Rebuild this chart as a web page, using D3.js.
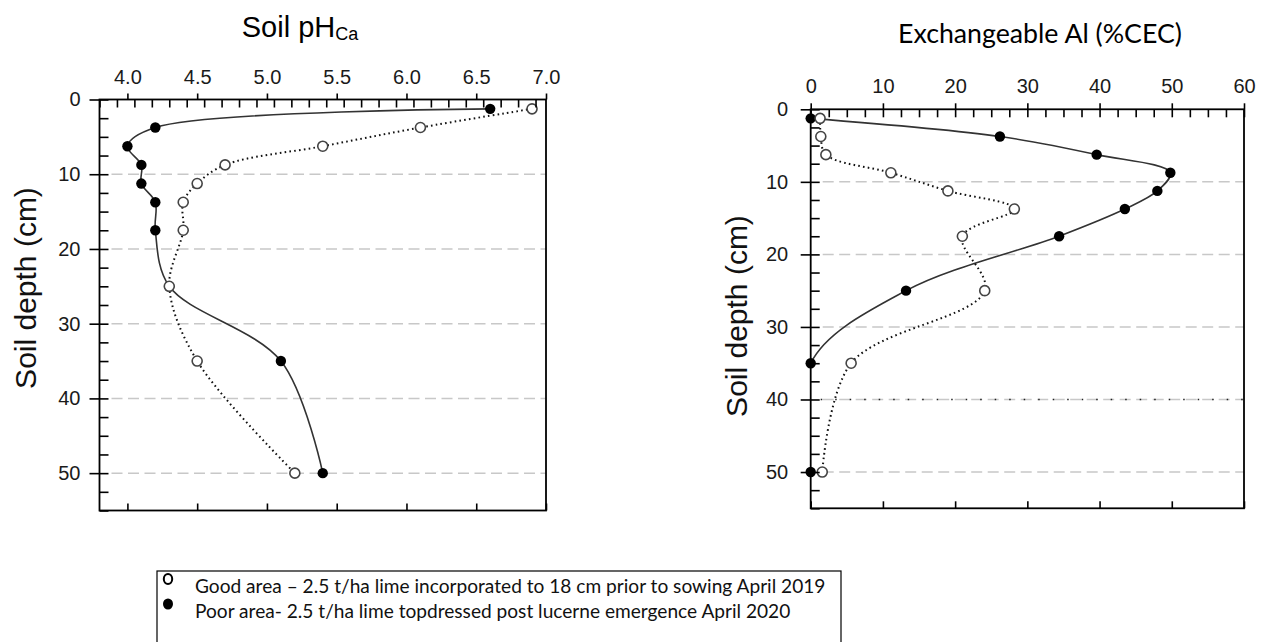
<!DOCTYPE html>
<html>
<head>
<meta charset="utf-8">
<script src="https://cdn.jsdelivr.net/npm/d3@7"></script>
<style>
  body { margin: 0; background: #fff; }
  svg { display: block; }
</style>
</head>
<body>
<svg width="1272" height="642"></svg>
<script>
"use strict";

// sampling depths (cm), shared by both panels
const depths = [1.25, 3.75, 6.25, 8.75, 11.25, 13.75, 17.5, 25, 35, 50];
// Soil pH(Ca)
const phGood = [6.9, 6.1, 5.4, 4.7, 4.5, 4.4, 4.4, 4.3, 4.5, 5.2];
const phPoor = [6.6, 4.2, 4.0, 4.1, 4.1, 4.2, 4.2, 4.3, 5.1, 5.4];
// Exchangeable Al (%CEC)
const alGood = [1.3, 1.4, 2.1, 11.1, 19, 28.2, 21, 24.1, 5.6, 1.6];
const alPoor = [0, 26.2, 39.6, 49.8, 48, 43.5, 34.4, 13.2, 0, 0];

const phTicks = [4.0, 4.5, 5.0, 5.5, 6.0, 6.5, 7.0];
const alTicks = [0, 10, 20, 30, 40, 50, 60];
const depthTicks = [0, 10, 20, 30, 40, 50];
const legendLabels = [
    "Good area \u2013 2.5 t/ha lime incorporated to 18 cm prior to sowing April 2019",
    "Poor area- 2.5 t/ha lime topdressed post lucerne emergence April 2020"
];

const svg = d3.select("svg");
const axisFont = "'Liberation Sans', Arial, sans-serif";
const calibriLike = "Lato, 'Open Sans', sans-serif";

function fitWidth(sel, target) {
    const w = sel.node().getComputedTextLength();
    const fs = parseFloat(sel.attr("font-size"));
    sel.attr("font-size", fs * target / w);
}

function drawPanel(p) {
    const x = d3.scaleLinear().domain(p.xDomain).range(p.xRange),
        y = d3.scaleLinear().domain([0, 55]).range(p.yRange);
    const g = svg.append("g");
    const x0 = p.xRange[0], x1 = p.xRange[1], y0 = p.yRange[0], y1 = p.yRange[1];

    // keep the curves inside the frame
    svg.append("clipPath").attr("id", p.id)
        .append("rect")
        .attr("x", x0).attr("y", y0 - 10)
        .attr("width", x1 - x0).attr("height", y1 - y0 + 10);

    // dashed grid
    g.append("g").selectAll("line")
        .data(depthTicks.slice(1))
        .join("line")
        .attr("x1", x0 + 12).attr("x2", x1)
        .attr("y1", d => y(d)).attr("y2", d => y(d))
        .attr("stroke", "#c8c8c8")
        .attr("stroke-width", 1.5)
        .attr("stroke-dasharray", "11,5.5");

    if (p.dottedRow !== undefined) {
        g.append("line")
            .attr("x1", x0 + 10).attr("x2", x1)
            .attr("y1", y(p.dottedRow)).attr("y2", y(p.dottedRow))
            .attr("stroke", "#222")
            .attr("stroke-width", 1.5)
            .attr("stroke-dasharray", "1.5,13");
    }

    const line = d3.line()
        .x(d => x(d[0]))
        .y(d => y(d[1]))
        .curve(d3.curveCatmullRom.alpha(0.5));
    const poor = p.poor.map((v, i) => [v, depths[i]]),
        good = p.good.map((v, i) => [v, depths[i]]);

    const lines = g.append("g").attr("clip-path", `url(#${p.id})`);
    lines.append("path")
        .attr("d", line(poor))
        .attr("fill", "none")
        .attr("stroke", "#333")
        .attr("stroke-width", 1.6);
    lines.append("path")
        .attr("d", line(good))
        .attr("fill", "none")
        .attr("stroke", "#111")
        .attr("stroke-width", 2)
        .attr("stroke-dasharray", "1.6,3.2");

    g.append("g").selectAll("circle")
        .data(poor)
        .join("circle")
        .attr("cx", d => x(d[0])).attr("cy", d => y(d[1]))
        .attr("r", 5.2)
        .attr("fill", "#000");
    g.append("g").selectAll("circle")
        .data(good)
        .join("circle")
        .attr("cx", d => x(d[0])).attr("cy", d => y(d[1]))
        .attr("r", 5)
        .attr("fill", "#fff")
        .attr("stroke", "#444")
        .attr("stroke-width", 1.6);

    // axes
    const step = p.minorStep;
    const xAll = d3.range(p.xDomain[0], p.xDomain[1] + 1e-9, step).map(v => +v.toFixed(4));
    const yAll = d3.range(0, 55 + 1e-9, 2.5);

    const top = g.append("g").attr("transform", `translate(0,${y0})`)
        .call(d3.axisTop(x).tickValues(p.xTicks).tickSize(6).tickPadding(10).tickFormat(p.xFormat));
    g.append("g").attr("transform", `translate(0,${y0})`)
        .call(d3.axisBottom(x).tickValues(xAll).tickSize(8).tickFormat(""));
    g.append("g").attr("transform", `translate(0,${y1})`)
        .call(d3.axisTop(x).tickValues(p.xTicks).tickSize(7).tickFormat(""));
    g.append("g").attr("transform", `translate(${x0},0)`)
        .call(d3.axisLeft(y).tickValues(depthTicks).tickSize(10).tickPadding(p.yPad).tickFormat(d3.format("d")));
    g.append("g").attr("transform", `translate(${x0},0)`)
        .call(d3.axisRight(y).tickValues(yAll).tickSize(9).tickFormat(""));

    g.selectAll(".domain").remove();
    g.selectAll(".tick line").attr("stroke", "#000").attr("stroke-width", 1.6);
    g.selectAll(".tick text")
        .attr("font-family", axisFont)
        .attr("font-size", 20)
        .attr("fill", "#1a1a1a");
    top.selectAll(".tick text").attr("dy", "0");

    g.append("rect")
        .attr("x", x0).attr("y", y0)
        .attr("width", x1 - x0).attr("height", y1 - y0)
        .attr("fill", "none")
        .attr("stroke", "#000")
        .attr("stroke-width", 1.8);

    g.append("text")
        .attr("transform", `translate(${p.yLabelX},${p.yLabelY}) rotate(-90)`)
        .attr("text-anchor", "middle")
        .attr("font-family", axisFont)
        .attr("font-size", 30)
        .attr("fill", "#111")
        .text("Soil depth (cm)");
}

drawPanel({
    id: "clipPh",
    xDomain: [3.8, 7.0], xRange: [99.5, 546], yRange: [99.5, 510.5],
    xTicks: phTicks, xFormat: d3.format(".1f"), minorStep: 0.125,
    poor: phPoor, good: phGood, yPad: 9,
    yLabelX: 36, yLabelY: 288
});
drawPanel({
    id: "clipAl",
    xDomain: [0, 60], xRange: [810.7, 1244], yRange: [109.3, 508.3],
    xTicks: alTicks, xFormat: d3.format("d"), minorStep: 2.5,
    poor: alPoor, good: alGood, yPad: 12.5, dottedRow: 40,
    yLabelX: 747, yLabelY: 316
});

// titles
const t1 = svg.append("text")
    .attr("x", 300).attr("y", 37)
    .attr("text-anchor", "middle")
    .attr("font-family", axisFont)
    .attr("font-size", 29)
    .attr("fill", "#000");
t1.append("tspan").text("Soil pH");
t1.append("tspan").attr("font-size", 18).attr("dy", 3).text("Ca");

const t2 = svg.append("text")
    .attr("x", 1040).attr("y", 43)
    .attr("text-anchor", "middle")
    .attr("font-family", calibriLike)
    .attr("font-size", 22)
    .attr("fill", "#000")
    .text("Exchangeable Al (%CEC)");
fitWidth(t2, 284);

// legend
const lg = svg.append("g");
lg.append("rect")
    .attr("x", 157).attr("y", 571)
    .attr("width", 684).attr("height", 90)
    .attr("fill", "#fff")
    .attr("stroke", "#000")
    .attr("stroke-width", 1.2);
lg.append("ellipse")
    .attr("cx", 168).attr("cy", 579).attr("rx", 4.2).attr("ry", 5)
    .attr("fill", "#fff").attr("stroke", "#000").attr("stroke-width", 2);
lg.append("ellipse")
    .attr("cx", 168).attr("cy", 604).attr("rx", 5).attr("ry", 5.5)
    .attr("fill", "#000");
const lt = lg.selectAll("text.leg")
    .data(legendLabels)
    .join("text")
    .attr("class", "leg")
    .attr("x", 195)
    .attr("y", (d, i) => 593 + i * 25)
    .attr("font-family", calibriLike)
    .attr("font-size", 20)
    .attr("fill", "#111")
    .text(d => d);
const first = lt.filter((d, i) => i === 0);
fitWidth(first, 631);
lt.attr("font-size", first.attr("font-size"));
</script>
</body>
</html>
